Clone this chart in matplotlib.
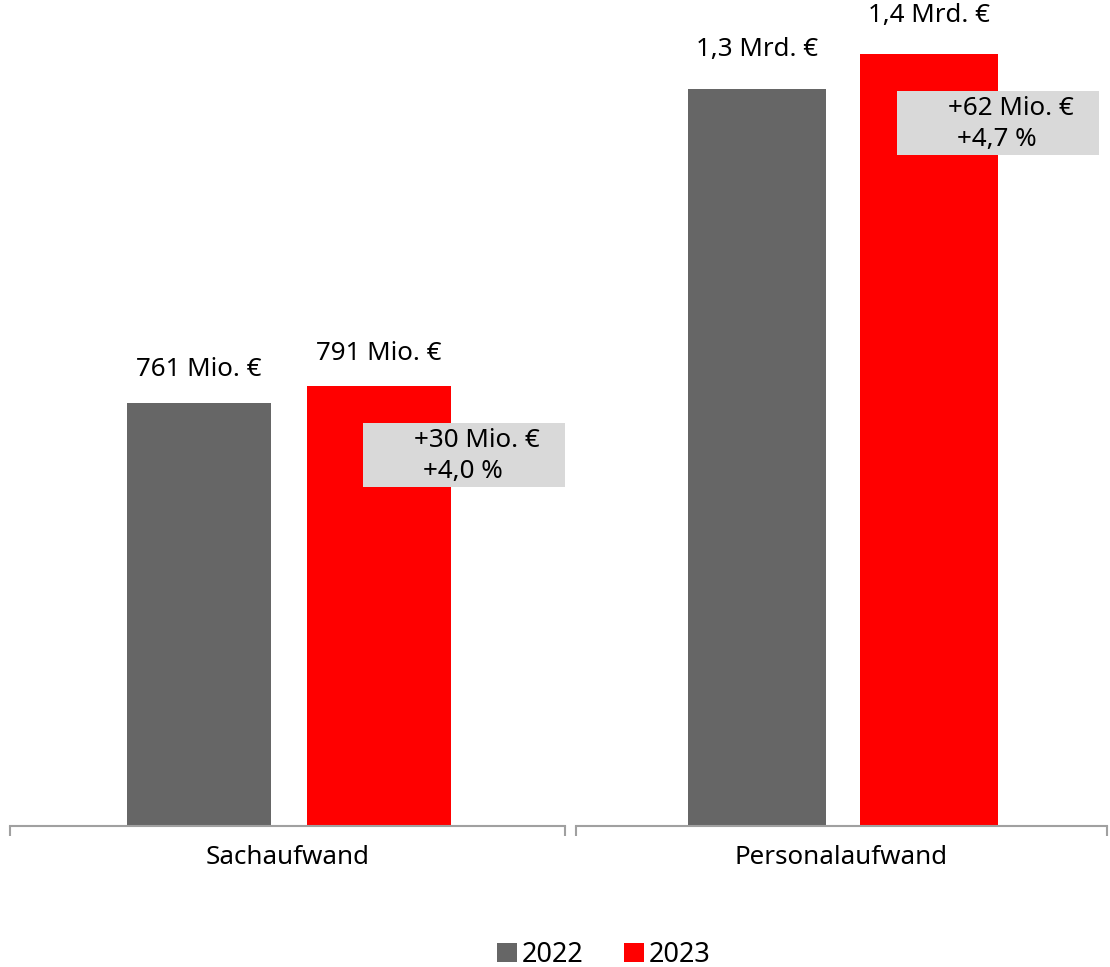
import matplotlib
matplotlib.use("Agg")
import matplotlib.pyplot as plt
from matplotlib.patches import Rectangle, Patch
from matplotlib.transforms import IdentityTransform

plt.rcParams['font.family'] = ['Noto Sans', 'DejaVu Sans']

categories = ["Sachaufwand", "Personalaufwand"]
years = ["2022", "2023"]
values_2022 = [761, 1325]   # Mio. €
values_2023 = [791, 1387]   # Mio. €
labels_2022 = ["761 Mio. €", "1,3 Mrd. €"]
labels_2023 = ["791 Mio. €", "1,4 Mrd. €"]
delta_abs = ["+30 Mio. €", "+62 Mio. €"]
delta_pct = ["+4,0 %", "+4,7 %"]

W, H = 1110, 967
DPI = 100
fig = plt.figure(figsize=(W / DPI, H / DPI), dpi=DPI)

GRAY = "#666666"
RED = "#ff0000"
BOX = "#d9d9d9"
AXIS = "#a0a0a0"
FS = 18.7

# axes positions in pixels (left, right)
axes_px = [(10, 565), (576, 1107)]
bottom_px = 826
top_px = 10
box_left_off = [-16, -32]   # box left edge relative to 2023 bar center (px)
label_off = [33, 39]        # label center above bar top (px)

ylim_top = 1467
xlim = (-1.05, 2.035)

for i, cat in enumerate(categories):
    x0, x1 = axes_px[i]
    ax = fig.add_axes([x0 / W, 1 - bottom_px / H, (x1 - x0) / W, (bottom_px - top_px) / H])
    ax.set_xlim(*xlim)
    ax.set_ylim(0, ylim_top)
    vals = [values_2022[i], values_2023[i]]
    ax.bar([0, 1], vals, width=0.8, color=[GRAY, RED], zorder=2)
    for s in ["top", "left", "right"]:
        ax.spines[s].set_visible(False)
    ax.spines["bottom"].set_color(AXIS)
    ax.spines["bottom"].set_linewidth(1.5)
    ax.set_yticks([])
    ax.set_xticks([])
    ax.set_xticks(list(xlim), minor=True)
    ax.tick_params(axis="x", which="minor", direction="out", length=7, width=1.5, color=AXIS, labelbottom=False)
    ax.text(0.5, -32 / (bottom_px - top_px), cat, transform=ax.transAxes,
            ha="center", va="center", fontsize=FS)

    # value labels
    labs = [labels_2022[i], labels_2023[i]]
    for j in range(2):
        ax.annotate(labs[j], xy=(j, vals[j]), xytext=(0, label_off[i] * 72 / DPI),
                    textcoords="offset points", ha="center", va="center", fontsize=FS)

    # delta box (pixel coordinates)
    px, py = ax.transData.transform((1, vals[1]))
    bx = px + box_left_off[i]
    btop = py - 37
    bw, bh = 202, 64
    fig.patches.append(Rectangle((bx, btop - bh), bw, bh, transform=IdentityTransform(),
                                 facecolor=BOX, edgecolor="none", zorder=5, figure=fig))
    fig.text(bx + 51, btop - 17, delta_abs[i], transform=IdentityTransform(),
             ha="left", va="center", fontsize=FS, zorder=6)
    fig.text(bx + 60, btop - 48, delta_pct[i], transform=IdentityTransform(),
             ha="left", va="center", fontsize=FS, zorder=6)

handles = [Patch(facecolor=GRAY, label=years[0]), Patch(facecolor=RED, label=years[1])]
fig.legend(handles=handles, loc="center", bbox_to_anchor=(604 / W, 1 - 955 / H), ncol=2,
           frameon=False, fontsize=19.5, handlelength=0.72, handleheight=0.72,
           handletextpad=0.2, columnspacing=1.5, borderaxespad=0)

fig.savefig("out.png", dpi=DPI)
